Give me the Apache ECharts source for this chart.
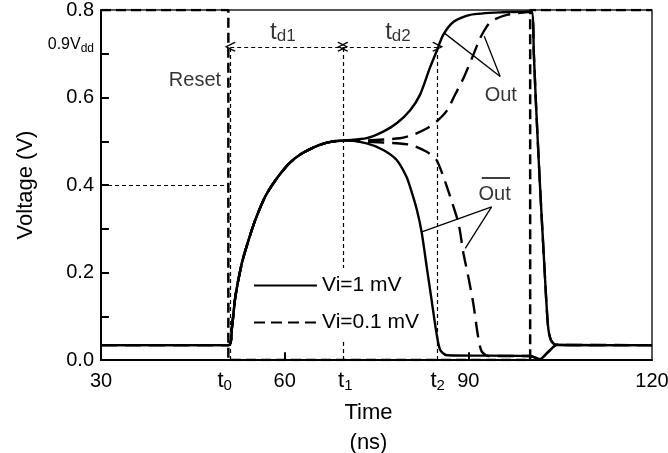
<!DOCTYPE html>
<html>
<head>
<meta charset="utf-8">
<script src="https://cdn.jsdelivr.net/npm/echarts@6/dist/echarts.min.js"></script>
<style>
  html, body { margin: 0; padding: 0; background: #fff; }
  #main { width: 668px; height: 453px; }
</style>
</head>
<body>
<div id="main"></div>
<script>
// common rise of both outputs after reset release (t0 -> t1)
var riseT = [30, 50.85, 51.4, 51.95, 53.0, 54.1, 55.2, 56.8, 58.5, 60.7, 62.8, 65.6, 67.7, 69.9];
var riseV = [0.034, 0.034, 0.076, 0.145, 0.221, 0.274, 0.32, 0.373, 0.411, 0.449, 0.472, 0.491, 0.499, 0.502];

// Vi = 1 mV
var out1T = [73.4, 76.1, 78.3, 80.5, 82.1, 83.7, 84.8, 85.9, 87.6, 90.3, 95.7, 100.3];
var out1V = [0.507, 0.522, 0.541, 0.571, 0.606, 0.667, 0.705, 0.743, 0.773, 0.789, 0.795, 0.796];
var outb1T = [73.4, 76.1, 78.3, 79.9, 80.5, 81.6, 82.4, 83.2, 84.0, 84.8, 85.4, 86.5, 100.1];
var outb1V = [0.495, 0.48, 0.457, 0.419, 0.395, 0.343, 0.29, 0.213, 0.137, 0.061, 0.023, 0.011, 0.009];

// Vi = 0.1 mV
var out2T = [73.4, 78.8, 80.8, 83.2, 84.8, 86.5, 87.6, 89.2, 90.8, 91.9, 93.0, 93.8, 96.3, 100.3];
var out2V = [0.502, 0.507, 0.514, 0.529, 0.545, 0.57, 0.6, 0.644, 0.697, 0.735, 0.762, 0.775, 0.789, 0.796];
var outb2T = [73.4, 78.8, 80.8, 83.2, 84.8, 85.9, 87.0, 88.4, 89.2, 90.0, 90.8, 91.6, 92.2, 93.3, 100.1];
var outb2V = [0.499, 0.495, 0.491, 0.476, 0.457, 0.42, 0.375, 0.312, 0.244, 0.19, 0.13, 0.053, 0.019, 0.009, 0.009];

// after the next reset
var outFallT = [100.7, 101.0, 101.7, 102.4, 103.0, 103.5, 104.3, 120];
var outFallV = [0.70, 0.60, 0.40, 0.22, 0.08, 0.045, 0.035, 0.034];
var outbRiseT = [101.7, 102.8, 103.9, 104.4, 120];
var outbRiseV = [0.002, 0.015, 0.03, 0.034, 0.034];

// reset signal
var resetT = [30, 50.8, 50.8, 100.1, 100.1, 120];
var resetV = [0.8, 0.8, 0, 0, 0.8, 0.8];

// ticks and tick labels
var xTickVals = [30, 50.2, 60, 69.9, 85, 90, 120];
var xTickText = ['30', 't0', '60', 't1', 't2', '90', '120'];
var xTicks = [60, 90];
var yTickVals = [0, 0.2, 0.4, 0.6, 0.72, 0.8];
var yTickText = ['0.0', '0.2', '0.4', '0.6', '0.9Vdd', '0.8'];
var yTicks = [0.1, 0.2, 0.3, 0.4, 0.5, 0.6, 0.7];

var t0 = 51.1, t1 = 69.5, t2 = 85.0, v90 = 0.716;

function zip(t, v) {
  return t.map(function (x, i) { return [x, v[i]]; });
}

var FONT = 'Liberation Sans, Arial, sans-serif';
var chevron = 'path://M5,0 L10,9 L9,10 L5,2.5 L1,10 L0,9 Z';
var thinDash = { color: '#000', width: 1.2, type: [4, 3] };
var pointer = { color: '#000', width: 1.3, type: 'solid' };
var tickLine = { color: '#000', width: 2, type: 'solid' };

function seg(a, b, style, sym) {
  return [
    { coord: a, lineStyle: style, symbol: sym || 'none' },
    { coord: b, symbol: sym || 'none' }
  ];
}

function curve(name, dash, t, v) {
  return {
    name: name, type: 'line', symbol: 'none', smooth: 0.25,
    itemStyle: { color: '#000' },
    lineStyle: { color: '#000', width: 2.4, type: dash },
    data: zip(t, v)
  };
}

// inward tick marks (axis ticks drawn as short segments, ~8px long)
var tickSegs = yTicks.map(function (v) { return seg([30, v], [31.3, v], tickLine); })
  .concat(xTicks.map(function (t) { return seg([t, 0], [t, 0.018], tickLine); }));

var chart = echarts.init(document.getElementById('main'));

var option = {
  animation: false,
  backgroundColor: '#fff',
  grid: {
    left: 101, right: 16, top: 10, bottom: 93,
    show: true, borderColor: '#222', borderWidth: 1.5,
    outerBoundsMode: 'none'
  },
  legend: {
    data: [
      { name: 'Vi=1 mV' },
      { name: 'Vi=0.1 mV', lineStyle: { type: [11, 6] } }
    ],
    orient: 'vertical',
    left: 249, top: 268, z: 20,
    padding: [7, 4, 7, 4],
    backgroundColor: '#fff',
    itemWidth: 63, itemHeight: 14, itemGap: 16,
    itemStyle: { opacity: 0 },
    textStyle: { fontSize: 21, color: '#000', fontFamily: FONT }
  },
  xAxis: {
    type: 'value', min: 30, max: 120, interval: 30,
    name: 'Time\n(ns)', nameLocation: 'middle', nameGap: 25,
    nameTextStyle: { fontSize: 22, lineHeight: 30, color: '#000', fontFamily: FONT, padding: [0, 16, 0, 0] },
    axisLine: { show: true, onZero: false, lineStyle: { color: '#000', width: 2 } },
    axisTick: { show: false },
    splitLine: { show: false },
    axisLabel: {
      customValues: xTickVals, hideOverlap: false, margin: 9,
      color: '#000', fontFamily: FONT,
      formatter: function (v) {
        var i = xTickVals.indexOf(v);
        var s = i < 0 ? '' : xTickText[i];
        if (s.charAt(0) === 't') return '{t|t}{s|' + s.slice(1) + '}';
        return '{n|' + s + '}';
      },
      rich: {
        n: { fontSize: 20, lineHeight: 24, fontFamily: FONT, color: '#000' },
        t: { fontSize: 22, lineHeight: 24, fontFamily: FONT, color: '#000' },
        s: { fontSize: 15, lineHeight: 12, verticalAlign: 'bottom', fontFamily: FONT, color: '#000' }
      }
    }
  },
  yAxis: {
    type: 'value', min: 0, max: 0.8, interval: 0.1,
    name: 'Voltage (V)', nameLocation: 'middle', nameGap: 62, nameRotate: 90,
    nameTextStyle: { fontSize: 22, color: '#000', fontFamily: FONT },
    axisLine: { show: true, lineStyle: { color: '#000', width: 2 } },
    axisTick: { show: false },
    splitLine: { show: false },
    axisLabel: {
      customValues: yTickVals, margin: 7, color: '#000', fontFamily: FONT,
      formatter: function (v) {
        var i = yTickVals.indexOf(v);
        var s = i < 0 ? '' : yTickText[i];
        if (s === '0.9Vdd') return '{a|0.9V}{b|dd}';
        return '{n|' + s + '}';
      },
      rich: {
        n: { fontSize: 20, lineHeight: 20, fontFamily: FONT, color: '#000' },
        a: { fontSize: 16, lineHeight: 20, fontFamily: FONT, color: '#000' },
        b: { fontSize: 12, lineHeight: 10, verticalAlign: 'bottom', fontFamily: FONT, color: '#000' }
      }
    }
  },
  series: [
    {
      name: 'Reset', type: 'line', symbol: 'none',
      lineStyle: { color: '#000', width: 2.5, type: [10, 5] },
      data: zip(resetT, resetV), z: 3
    },
    curve('Vi=1 mV', 'solid', riseT.concat(out1T, outFallT), riseV.concat(out1V, outFallV)),
    curve('Vi=1 mV', 'solid', riseT.concat(outb1T, outbRiseT), riseV.concat(outb1V, outbRiseV)),
    curve('Vi=0.1 mV', [16, 8], riseT.concat(out2T, outFallT), riseV.concat(out2V, outFallV)),
    curve('Vi=0.1 mV', [16, 8], riseT.concat(outb2T, outbRiseT), riseV.concat(outb2V, outbRiseV)),
    {
      name: 'notes', type: 'scatter', symbolSize: 0, silent: true,
      label: {
        show: true, position: 'inside', color: '#000', fontSize: 20, fontFamily: FONT,
        rich: {
          t: { fontSize: 24, lineHeight: 26, fontFamily: FONT, color: '#000' },
          s: { fontSize: 17, lineHeight: 14, verticalAlign: 'bottom', fontFamily: FONT, color: '#000' }
        }
      },
      data: [
        { value: [45.35, 0.64], label: { formatter: 'Reset' } },
        { value: [59.7, 0.75], label: { formatter: '{t|t}{s|d1}' } },
        { value: [78.5, 0.75], label: { formatter: '{t|t}{s|d2}' } },
        { value: [95.3, 0.605], label: { formatter: 'Out' } },
        { value: [94.3, 0.378], label: { formatter: 'Out' } }
      ],
      markLine: {
        silent: true, animation: false,
        label: { show: false },
        symbolSize: [10, 11],
        data: [
          seg([30, 0.4], [50.8, 0.4], thinDash),
          seg([t0, 0], [t0, v90], thinDash),
          seg([t1, 0], [t1, v90], thinDash),
          seg([t2, 0], [t2, v90], thinDash),
          seg([t0, v90], [t1, v90], thinDash, chevron),
          seg([t1, v90], [t2, v90], thinDash, chevron),
          seg([86.2, 0.746], [95.2, 0.648], pointer),
          seg([92.6, 0.74], [95.2, 0.648], pointer),
          seg([82.4, 0.293], [93.8, 0.35], pointer),
          seg([89.5, 0.255], [93.8, 0.35], pointer),
          seg([92.2, 0.416], [96.8, 0.416], { color: '#000', width: 1.5, type: 'solid' })
        ].concat(tickSegs)
      }
    }
  ]
};

chart.setOption(option);
</script>
</body>
</html>
